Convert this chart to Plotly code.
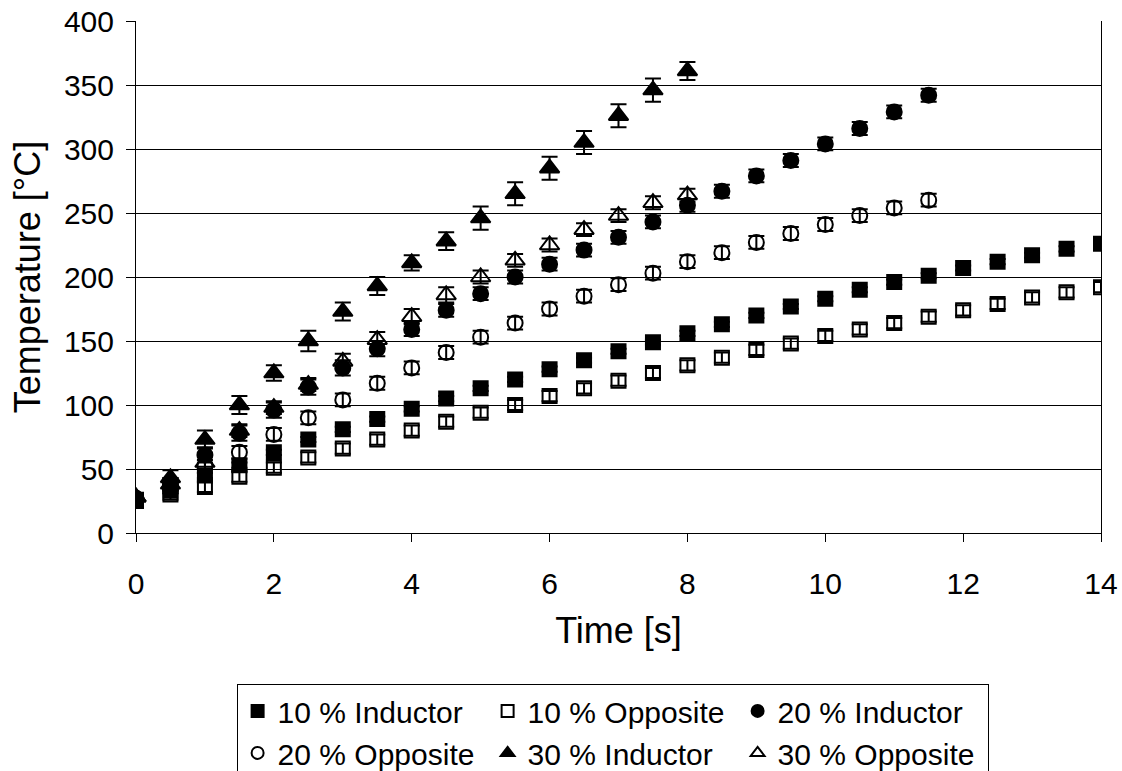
import plotly.graph_objects as go

# ---- data ----
time_long = [0, 0.5, 1, 1.5, 2, 2.5, 3, 3.5, 4, 4.5, 5, 5.5, 6, 6.5, 7, 7.5, 8,
             8.5, 9, 9.5, 10, 10.5, 11, 11.5, 12, 12.5, 13, 13.5, 14]
time_mid = time_long[:24]   # 0 .. 11.5
time_short = time_long[:17]  # 0 .. 8

ind10 = [25, 33, 45, 53, 63, 73, 81, 89, 97, 105, 113, 120, 128, 135, 142, 149, 156,
         163, 170, 177, 183, 190, 196, 201, 207, 212, 217, 222, 226]
opp10 = [26, 30, 36, 44, 51, 59, 66, 73, 80, 87, 94, 100, 107, 113, 119, 125, 131,
         137, 143, 148, 154, 159, 164, 169, 174, 179, 184, 188, 192]
ind20 = [27, 38, 61, 78, 96, 114, 129, 144, 159, 174, 187, 200, 210, 221, 231, 243,
         256, 267, 279, 291, 304, 316, 329, 342]
opp20 = [27, 35, 52, 63, 77, 90, 104, 117, 129, 141, 153, 164, 175, 185, 194, 203,
         212, 219, 227, 234, 241, 248, 254, 260]
ind30 = [28, 43, 73, 100, 125, 150, 173, 193, 211, 228, 246, 265, 285, 305, 326, 346, 361]
opp30 = [28, 38, 55, 80, 98, 116, 134, 151, 169, 186, 200, 213, 225, 237, 248, 258, 264]

err_ind10 = [2] * 29
err_opp10 = [4] * 29
err_ind20 = [3, 5, 6, 6, 6, 6, 6, 6, 5, 5, 5, 5, 5, 5, 5, 5, 5, 5, 5, 5, 5, 5, 5, 5]
err_opp20 = [3, 4, 5, 5, 5, 5, 5, 5, 5, 5, 5, 5, 5, 5, 5, 5, 5, 5, 5, 5, 5, 5, 5, 5]
err_ind30 = [3, 6, 7, 7, 6, 8, 7, 7, 6, 7, 9, 9, 9, 9, 9, 9, 7]
err_opp30 = [3, 5, 5, 5, 5, 5, 6, 6, 6, 6, 5, 5, 5, 5, 5, 5, 5]

series = [
    ("10 % Inductor", time_long, ind10, err_ind10, "square", 14),
    ("10 % Opposite", time_long, opp10, err_opp10, "square-open", 14),
    ("20 % Inductor", time_mid, ind20, err_ind20, "circle", 15),
    ("20 % Opposite", time_mid, opp20, err_opp20, "circle-open", 15),
    ("30 % Inductor", time_short, ind30, err_ind30, "triangle-up", 17),
    ("30 % Opposite", time_short, opp30, err_opp30, "triangle-up-open", 17),
]

FONT = "Liberation Sans, Arial, sans-serif"
fig = go.Figure()
for name, x, y, e, sym, sz in series:
    fig.add_trace(go.Scatter(
        x=x, y=y, name=name, mode="markers",
        marker=dict(symbol=sym, size=sz, color="black", line=dict(color="black", width=2)),
        error_y=dict(type="data", array=e, visible=True, color="black", thickness=2, width=8),
    ))

fig.update_layout(
    width=1122, height=771,
    margin=dict(l=136, r=21, t=21, b=238, autoexpand=False),
    paper_bgcolor="white", plot_bgcolor="white",
    font=dict(family=FONT, size=30, color="black"),
    showlegend=True,
    legend=dict(
        orientation="h", x=0.546, xref="container", xanchor="center",
        y=0.113, yref="container", yanchor="top",
        bordercolor="black", borderwidth=1, bgcolor="white",
        font=dict(family=FONT, size=30, color="black"),
        entrywidth=205, itemsizing="constant", tracegroupgap=0,
    ),
    xaxis=dict(
        range=[0, 14], dtick=2, tick0=0, showgrid=False, zeroline=False,
        showline=True, linecolor="black", linewidth=1, automargin=False,
        ticks="outside", ticklen=8, tickcolor="black", ticklabelstandoff=16,
        title=dict(text="Time [s]", standoff=18),
    ),
    yaxis=dict(
        range=[0, 400], dtick=50, tick0=0, showgrid=True, gridcolor="black", gridwidth=1,
        zeroline=False, showline=True, linecolor="black", linewidth=1, mirror=True,
        automargin=False,
        ticks="outside", ticklen=9, tickcolor="black", ticklabelstandoff=6,
        title=dict(text="Temperature [°C]", standoff=12),
    ),
)

fig.write_html("out.html")
